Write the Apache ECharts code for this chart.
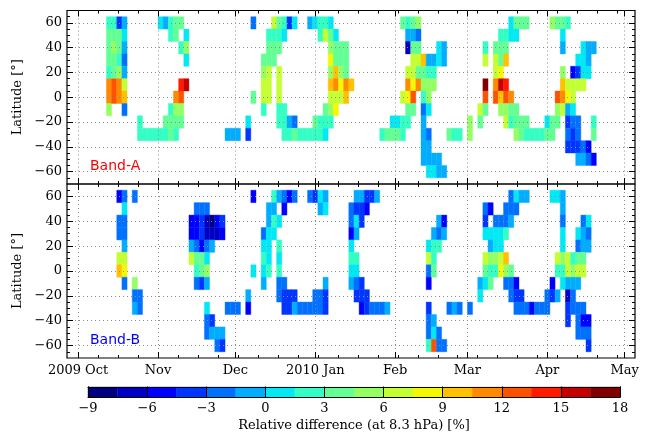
<!DOCTYPE html>
<html><head><meta charset="utf-8">
<script src="https://cdn.jsdelivr.net/npm/echarts@6/dist/echarts.min.js"></script>
<style>html,body{margin:0;padding:0;background:#fff}#c{width:648px;height:433px}</style>
</head><body><div id="c"></div>
<script>
// x values are days since 2009-10-01; each cell spans 2 days x 10 degrees latitude
const monthTicks = [0, 31, 61, 92, 123, 151, 182, 212];
const monthLabels = ['2009 Oct', 'Nov', 'Dec', '2010 Jan', 'Feb', 'Mar', 'Apr', 'May'];
const minorDayTicks = [7.75, 15.5, 23.25, 38.75, 46.5, 54.25, 62, 69.75, 77.5, 85.25, 93, 100.75, 108.5, 116.25, 124, 131.75, 139.5, 147.25, 155, 162.75, 170.5, 178.25, 186, 193.75, 201.5, 209.25];
const latTicks = [-60, -40, -20, 0, 20, 40, 60];
const latMinorTicks = [-65, -55, -50, -45, -35, -30, -25, -15, -10, -5, 5, 10, 15, 25, 30, 35, 45, 50, 55, 65];
const cbTicks = [-9, -6, -3, 0, 3, 6, 9, 12, 15, 18];
const cbBounds = [-9, -7.5, -6, -4.5, -3, -1.5, 0, 1.5, 3, 4.5, 6, 7.5, 9, 10.5, 12, 13.5, 15, 16.5];

// [day, latitude, relative difference %]
const bandA = [
[12,60,2.2],[12,50,3.8],[12,40,3.8],[12,30,3.8],[12,20,2.2],[12,10,11.2],[12,0,11.2],[12,-10,5.2],
[14,60,2.2],[14,50,3.8],[14,40,5.2],[14,30,3.8],[14,20,3.8],[14,10,12.8],[14,0,12.8],
[16,60,-3.8],[16,50,3.8],[16,40,3.8],[16,30,2.2],[16,20,5.2],[16,10,11.2],[16,0,11.2],
[18,60,-0.8],[18,50,0.8],[18,40,-0.8],[18,30,-2.2],[18,20,-0.8],[18,10,6.8],[18,0,9.8],[18,-10,-2.2],
[24,-20,2.2],[24,-30,2.2],[26,-30,2.2],[28,-30,2.2],[30,-30,2.2],
[32,60,0.8],[32,-30,2.2],
[34,60,-0.8],[34,-20,3.8],[34,-30,2.2],
[36,60,2.2],[36,50,2.2],[36,-10,2.2],[36,-20,3.8],[36,-30,3.8],
[38,60,3.8],[38,50,3.8],[38,0,11.2],[38,-10,5.2],[38,-20,3.8],[38,-30,2.2],
[40,60,3.8],[40,40,2.2],[40,10,14.2],[40,0,12.8],[40,-10,5.2],[40,-20,3.8],
[42,50,0.8],[42,40,5.2],[42,30,0.8],[42,10,15.8],
[58,-30,-0.8],[60,-30,-0.8],[62,-30,-0.8],
[66,-20,0.8],[66,-30,-3.8],
[68,60,-2.2],[68,0,3.8],
[72,30,3.8],[72,20,5.2],[72,10,6.8],[72,0,6.8],[72,-10,2.2],
[74,50,2.2],[74,40,3.8],[74,30,3.8],[74,20,6.8],[74,10,6.8],[74,0,6.8],
[76,60,6.8],[76,50,2.2],[76,40,3.8],[76,30,3.8],
[78,60,3.8],[78,50,2.2],[78,40,3.8],[78,20,6.8],[78,10,6.8],[78,0,6.8],[78,-10,2.2],[78,-20,2.2],
[80,60,2.2],[80,50,0.8],[80,-10,2.2],[80,-20,2.2],[80,-30,2.2],
[82,60,-3.8],[82,-20,-0.8],[82,-30,2.2],
[84,60,0.8],[84,-20,-2.2],[84,-30,3.8],
[86,-30,2.2],[88,-30,2.2],
[90,60,-0.8],[90,-30,2.2],
[92,60,0.8],[92,-20,3.8],[92,-30,2.2],
[94,60,2.2],[94,50,2.2],[94,-20,2.2],[94,-30,2.2],
[96,60,2.2],[96,50,6.8],[96,-10,3.8],[96,-20,2.2],[96,-30,0.8],
[98,60,0.8],[98,50,3.8],[98,40,5.2],[98,30,8.2],[98,20,5.2],[98,10,9.8],[98,0,6.8],[98,-10,5.2],[98,-20,2.2],
[100,50,0.8],[100,40,3.8],[100,30,3.8],[100,20,9.8],[100,10,11.2],[100,0,6.8],[100,-10,8.2],
[102,40,3.8],[102,30,3.8],[102,20,5.2],[102,10,8.2],[102,0,6.8],
[104,40,3.8],[104,30,3.8],[104,20,3.8],[104,10,11.2],[104,0,9.8],
[106,10,9.8],
[118,-30,2.2],[120,-30,3.8],
[122,-20,0.8],[122,-30,3.8],
[124,-20,0.8],[124,-30,3.8],
[126,60,3.8],[126,0,6.8],[126,-20,2.2],[126,-30,2.2],
[128,60,2.2],[128,50,-0.8],[128,40,-6.8],[128,20,6.8],[128,10,11.2],[128,0,8.2],[128,-10,3.8],[128,-20,2.2],
[130,60,3.8],[130,50,-0.8],[130,40,3.8],[130,30,6.8],[130,20,6.8],[130,10,8.2],[130,0,12.8],[130,-10,3.8],
[132,60,5.2],[132,50,-2.2],[132,40,3.8],[132,30,6.8],[132,20,3.8],[132,10,11.2],
[134,30,9.8],[134,20,3.8],[134,10,5.2],[134,0,2.2],[134,-10,-2.2],[134,-20,-0.8],[134,-30,-0.8],[134,-40,-0.8],[134,-50,-0.8],
[136,30,-0.8],[136,20,2.2],[136,10,5.2],[136,0,5.2],[136,-10,0.8],[136,-30,-2.2],[136,-40,-0.8],[136,-50,-0.8],[136,-60,0.8],
[138,30,-0.8],[138,20,2.2],[138,10,5.2],[138,-50,-0.8],[138,-60,0.8],
[140,40,0.8],[140,30,0.8],[140,-50,-0.8],[140,-60,-0.8],
[142,40,-0.8],[142,30,-0.8],[142,-60,-0.8],
[144,-30,3.8],[146,-30,2.2],[148,-30,2.2],
[152,-20,5.2],[152,-30,5.2],
[156,-10,6.8],[156,-20,3.8],
[158,40,2.2],[158,30,6.8],[158,10,17.2],[158,0,12.8],[158,-10,3.8],
[162,40,3.8],[162,30,6.8],[162,20,6.8],[162,10,11.2],[162,0,12.8],
[164,50,2.2],[164,40,3.8],[164,30,3.8],[164,20,8.2],[164,10,15.8],[164,0,9.8],[164,-10,5.2],
[166,50,2.2],[166,40,3.8],[166,30,9.8],[166,10,14.2],[166,0,12.8],[166,-10,5.2],[166,-20,6.8],
[168,60,0.8],[168,50,0.8],[168,0,11.2],[168,-10,3.8],[168,-20,2.2],
[170,60,3.8],[170,50,0.8],[170,-10,3.8],[170,-20,3.8],[170,-30,5.2],
[172,60,3.8],[172,-20,3.8],[172,-30,3.8],
[174,60,3.8],[174,-20,3.8],[174,-30,2.2],
[176,-30,2.2],[178,-30,2.2],[180,-30,2.2],
[182,-20,0.8],[182,-30,3.8],
[184,60,5.2],[184,-20,3.8],[184,-30,3.8],
[186,60,3.8],[186,0,12.8],[186,-10,5.2],[186,-20,3.8],
[188,60,3.8],[188,50,0.8],[188,40,-0.8],[188,20,5.2],[188,10,9.8],[188,0,11.2],[188,-10,6.8],
[190,60,2.2],[190,10,6.8],[190,0,8.2],[190,-10,-0.8],[190,-20,-3.8],[190,-30,-2.2],[190,-40,-3.8],
[192,20,-5.2],[192,10,6.8],[192,0,6.8],[192,-10,0.8],[192,-20,-2.2],[192,-30,-3.8],[192,-40,-3.8],
[194,30,0.8],[194,20,-3.8],[194,10,6.8],[194,-20,-2.2],[194,-30,-2.2],[194,-40,-3.8],[194,-50,-0.8],
[196,40,0.8],[196,30,0.8],[196,20,0.8],[196,10,6.8],[196,-40,-2.2],[196,-50,-0.8],
[198,40,-0.8],[198,30,-0.8],[198,20,0.8],[198,-40,-5.2],[198,-50,-2.2],
[200,40,-0.8],[200,-20,2.2],[200,-30,3.8],[200,-50,-5.2]
];

const bandB = [
[16,60,-5.2],[16,40,-2.2],[16,30,-2.2],[16,10,6.8],[16,0,9.8],
[18,60,-2.2],[18,50,0.8],[18,40,-2.2],[18,30,-2.2],[18,20,-0.8],[18,10,6.8],[18,0,8.2],[18,-10,-2.2],
[22,60,-2.2],[22,-10,5.2],[22,-20,-2.2],[22,-30,-0.8],
[24,-20,-2.2],[24,-30,-2.2],
[44,40,-5.2],[44,30,-5.2],[44,20,-0.8],[44,10,6.8],
[46,50,-2.2],[46,40,-5.2],[46,30,-5.2],[46,20,-2.2],[46,10,3.8],[46,0,2.2],[46,-10,-2.2],
[48,50,-2.2],[48,40,-3.8],[48,30,-3.8],[48,20,-5.2],[48,10,3.8],[48,0,3.8],[48,-10,-3.8],
[50,50,-2.2],[50,40,-6.8],[50,30,-6.8],[50,20,-2.2],[50,10,0.8],[50,0,5.2],[50,-10,-0.8],[50,-30,0.8],[50,-40,-2.2],[50,-50,-2.2],
[52,40,-8.2],[52,30,-6.8],[52,20,-0.8],[52,-40,-3.8],[52,-50,-0.8],
[54,40,-5.2],[54,30,-6.8],[54,-50,-0.8],[54,-60,-2.2],
[56,40,-3.8],[56,30,-5.2],[56,-50,-0.8],[56,-60,-3.8],
[58,-30,-2.2],[60,-30,-2.2],[62,-30,-2.2],
[66,-20,-0.8],[66,-30,-5.2],
[68,60,-5.2],[68,0,0.8],
[72,30,-2.2],[72,20,0.8],[72,10,2.2],[72,0,0.8],[72,-10,-0.8],
[74,50,-0.8],[74,40,-0.8],[74,30,0.8],[74,20,0.8],[74,10,0.8],[74,0,2.2],
[76,60,2.2],[76,50,-0.8],[76,40,2.2],[76,30,0.8],
[78,60,-0.8],[78,40,0.8],[78,20,2.2],[78,10,0.8],[78,0,2.2],[78,-10,-2.2],[78,-20,-2.2],
[80,60,-2.2],[80,50,-5.2],[80,-10,-2.2],[80,-20,-3.8],[80,-30,-3.8],
[82,60,-5.2],[82,-20,-3.8],[82,-30,-3.8],
[84,60,-2.2],[84,-20,-3.8],[84,-30,-0.8],
[86,-30,-2.2],[88,-30,-2.2],
[90,60,-2.2],[90,-30,-2.2],
[92,60,-3.8],[92,-20,-2.2],[92,-30,-2.2],
[94,60,0.8],[94,50,-0.8],[94,-20,-2.2],[94,-30,-2.2],
[96,60,-0.8],[96,50,0.8],[96,-10,-0.8],[96,-20,-3.8],[96,-30,-3.8],
[106,50,-2.2],[106,40,-2.2],[106,30,-5.2],[106,20,0.8],[106,10,2.2],[106,0,0.8],[106,-10,-0.8],
[108,60,-0.8],[108,50,-3.8],[108,40,0.8],[108,30,-0.8],[108,10,2.2],[108,0,0.8],[108,-10,-2.2],[108,-20,-3.8],
[110,60,-0.8],[110,50,-3.8],[110,40,-3.8],[110,-10,-3.8],[110,-20,-3.8],[110,-30,-5.2],
[112,60,-3.8],[112,50,-5.2],[112,-20,-3.8],[112,-30,-3.8],
[114,60,-3.8],[114,-30,-2.2],
[116,60,-0.8],[116,-30,-2.2],
[118,-30,-2.2],[120,-30,-0.8],
[136,20,0.8],[136,10,6.8],[136,0,-2.2],[136,-10,-5.2],[136,-30,-3.8],[136,-40,-2.2],[136,-50,-2.2],[136,-60,2.2],
[138,30,-0.8],[138,20,2.2],[138,10,2.2],[138,0,3.8],[138,-40,-0.8],[138,-50,0.8],[138,-60,12.8],
[140,40,-0.8],[140,30,-2.2],[140,20,2.2],[140,-50,-2.2],[140,-60,-2.2],
[142,40,-5.2],[142,30,-0.8],[142,-60,-2.2],
[144,-30,-2.2],[146,-30,-0.8],[148,-30,-2.2],[152,-30,-2.2],
[156,-10,-0.8],[156,-20,0.8],
[158,50,-2.2],[158,40,-3.8],[158,30,0.8],[158,10,6.8],[158,0,3.8],[158,-10,0.8],
[160,50,-5.2],[160,30,0.8],[160,20,-0.8],[160,10,5.2],[160,0,2.2],[160,-10,3.8],
[162,40,-2.2],[162,30,0.8],[162,20,0.8],[162,10,5.2],[162,0,2.2],
[164,40,-2.2],[164,30,0.8],[164,20,0.8],[164,10,6.8],[164,0,8.2],
[166,50,-2.2],[166,40,-2.2],[166,30,2.2],[166,10,9.8],[166,0,5.2],[166,-10,-2.2],
[168,60,-2.2],[168,50,-2.2],[168,40,-0.8],[168,0,3.8],[168,-10,-2.2],[168,-20,-2.2],
[170,60,0.8],[170,50,-2.2],[170,-10,-5.2],[170,-20,-3.8],[170,-30,-2.2],
[172,60,-0.8],[172,-20,-3.8],[172,-30,-2.2],
[174,60,-0.8],[174,-30,-2.2],
[176,-30,-5.2],[178,-30,-2.2],[180,-30,-2.2],
[182,-20,-2.2],[182,-30,-2.2],
[184,60,0.8],[184,-10,-5.2],[184,-20,-3.8],
[186,60,0.8],[186,10,6.8],[186,0,2.2],[186,-20,-0.8],
[188,60,-0.8],[188,50,-0.8],[188,40,-2.2],[188,30,0.8],[188,20,0.8],[188,10,5.2],[188,0,2.2],[188,-10,0.8],
[190,10,6.8],[190,0,6.8],[190,-10,-0.8],[190,-20,-6.8],[190,-30,-3.8],[190,-40,-3.8],
[192,10,2.2],[192,0,5.2],[192,-10,-0.8],[192,-20,-2.2],[192,-30,-2.2],
[194,30,0.8],[194,20,-2.2],[194,10,3.8],[194,0,6.8],[194,-10,-0.8],[194,-30,-2.2],[194,-40,-2.2],[194,-50,-2.2],
[196,40,-2.2],[196,30,-0.8],[196,20,-0.8],[196,10,3.8],[196,0,6.8],[196,-30,-2.2],[196,-40,-5.2],[196,-50,-2.2],
[198,40,0.8],[198,30,-2.2],[198,20,-0.8],[198,-40,-5.2],[198,-50,-2.2],[198,-60,-3.8]
];

// matplotlib "jet" colormap, 18 discrete levels (-9 .. 18 by 1.5)
function jet(t) {
  function interp(pts) {
    for (let i = 0; i < pts.length - 1; i++) {
      const a = pts[i], b = pts[i + 1];
      if (t >= a[0] && t <= b[0]) return a[1] + (b[1] - a[1]) * (t - a[0]) / (b[0] - a[0]);
    }
    return pts[pts.length - 1][1];
  }
  const r = interp([[0,0],[0.35,0],[0.66,1],[0.89,1],[1,0.5]]);
  const g = interp([[0,0],[0.125,0],[0.375,1],[0.64,1],[0.91,0],[1,0]]);
  const b = interp([[0,0.5],[0.11,1],[0.34,1],[0.65,0],[1,0]]);
  return 'rgb(' + Math.round(r*255) + ',' + Math.round(g*255) + ',' + Math.round(b*255) + ')';
}
const levelColors = cbBounds.map((_, i) => jet(i / (cbBounds.length - 1)));
function colorFor(v) {
  let i = Math.floor((v - cbBounds[0]) / 1.5);
  i = Math.max(0, Math.min(levelColors.length - 1, i));
  return levelColors[i];
}

const xMin = -4.3, xMax = 216;
const serif = 'DejaVu Serif';
const minus = s => String(s).replace('-', '\u2212');
const tickStyle = {color: '#000', width: 1};
const gridDot = {color: '#8c8c8c', width: 1, type: [1, 3]};
const noLine = {show: false, onZero: false};

function xAxesFor(gi, showLabels) {
  const c = {gridIndex: gi, type: 'value', min: xMin, max: xMax, z: 3, axisLine: noLine, splitLine: {show: false}, axisLabel: {show: false}};
  return [
    Object.assign({}, c, {position: 'bottom',
      axisTick: {show: true, inside: true, length: 6, customValues: monthTicks, lineStyle: tickStyle},
      axisLabel: {show: showLabels, customValues: monthTicks, margin: 6, color: '#000', fontFamily: serif, fontSize: 13,
        formatter: v => monthLabels[monthTicks.indexOf(Math.round(v))] || ''},
      splitLine: {show: true, lineStyle: gridDot}}),
    Object.assign({}, c, {position: 'bottom', axisTick: {show: true, inside: true, length: 3, customValues: minorDayTicks, lineStyle: tickStyle}}),
    Object.assign({}, c, {position: 'top', axisTick: {show: true, inside: true, length: 6, customValues: monthTicks, lineStyle: tickStyle}}),
    Object.assign({}, c, {position: 'top', axisTick: {show: true, inside: true, length: 3, customValues: minorDayTicks, lineStyle: tickStyle}})
  ];
}
function yAxesFor(gi) {
  const c = {gridIndex: gi, type: 'value', min: -70, max: 70, z: 3, axisLine: noLine, splitLine: {show: false}, axisLabel: {show: false}};
  return [
    Object.assign({}, c, {position: 'left',
      name: 'Latitude [\u00b0]', nameLocation: 'middle', nameGap: 33, nameRotate: 90,
      nameTextStyle: {fontFamily: serif, fontSize: 13, color: '#000'},
      axisTick: {show: true, inside: true, length: 6, customValues: latTicks, lineStyle: tickStyle},
      axisLabel: {show: true, customValues: latTicks, margin: 5, color: '#000', fontFamily: serif, fontSize: 13, formatter: minus},
      splitLine: {show: true, lineStyle: gridDot}}),
    Object.assign({}, c, {position: 'left', axisTick: {show: true, inside: true, length: 3, customValues: latMinorTicks, lineStyle: tickStyle}}),
    Object.assign({}, c, {position: 'right', axisTick: {show: true, inside: true, length: 6, customValues: latTicks, lineStyle: tickStyle}}),
    Object.assign({}, c, {position: 'right', axisTick: {show: true, inside: true, length: 3, customValues: latMinorTicks, lineStyle: tickStyle}})
  ];
}

function cellRender(params, api) {
  const d = api.value(0), lat = api.value(1), v = api.value(2);
  const p0 = api.coord([d - 1, lat + 5]);
  const p1 = api.coord([d + 1, lat - 5]);
  const col = colorFor(v);
  return {type: 'rect', shape: {x: p0[0], y: p0[1], width: p1[0] - p0[0], height: p1[1] - p0[1]},
    style: {fill: col, stroke: col, lineWidth: 0.4}};
}
function cbRender(params, api) {
  const lo = api.value(0);
  const p0 = api.coord([lo, 1]);
  const p1 = api.coord([lo + 1.5, 0]);
  return {type: 'rect', shape: {x: p0[0], y: p0[1], width: p1[0] - p0[0], height: p1[1] - p0[1]},
    style: {fill: levelColors[params.dataIndex], stroke: levelColors[params.dataIndex], lineWidth: 0.4}};
}

const chart = echarts.init(document.getElementById('c'), null, {renderer: 'canvas'});
const cbX = {gridIndex: 2, type: 'value', min: -9, max: 18, interval: 3, z: 5};
const cbY = {gridIndex: 2, type: 'value', min: 0, max: 1, z: 5, axisTick: {show: false}, axisLabel: {show: false}, splitLine: {show: false}, axisLine: {show: true, onZero: false, lineStyle: tickStyle}};
chart.setOption({
  animation: false,
  backgroundColor: '#fff',
  grid: [
    {left: 67, top: 10.5, width: 568, height: 173.5, show: true, borderColor: '#000', borderWidth: 1.2, backgroundColor: 'transparent'},
    {left: 67, top: 184, width: 568, height: 174, show: true, borderColor: '#000', borderWidth: 1.2, backgroundColor: 'transparent'},
    {left: 88, top: 387, width: 532, height: 10.5}
  ],
  xAxis: [].concat(xAxesFor(0, false), xAxesFor(1, true), [
    Object.assign({}, cbX, {position: 'bottom',
      axisLine: {show: true, onZero: false, lineStyle: tickStyle},
      axisTick: {show: true, inside: true, length: 10.5, lineStyle: tickStyle},
      axisLabel: {show: true, margin: 5, color: '#000', fontFamily: serif, fontSize: 13, formatter: minus},
      splitLine: {show: false},
      name: 'Relative difference (at 8.3 hPa) [%]', nameLocation: 'middle', nameGap: 22,
      nameTextStyle: {fontFamily: serif, fontSize: 13, color: '#000'}}),
    Object.assign({}, cbX, {position: 'top', axisLine: {show: true, onZero: false, lineStyle: tickStyle}, axisTick: {show: false}, axisLabel: {show: false}, splitLine: {show: false}})
  ]),
  yAxis: [].concat(yAxesFor(0), yAxesFor(1), [
    Object.assign({}, cbY, {position: 'left'}),
    Object.assign({}, cbY, {position: 'right'})
  ]),
  graphic: [
    {type: 'text', left: 90, top: 159, z: 10, style: {text: 'Band-A', fill: '#ff0000', font: '14px "DejaVu Sans"'}},
    {type: 'text', left: 90, top: 333, z: 10, style: {text: 'Band-B', fill: '#0000ff', font: '14px "DejaVu Sans"'}}
  ],
  series: [
    {type: 'custom', name: 'Band-A', xAxisIndex: 0, yAxisIndex: 0, data: bandA, renderItem: cellRender, encode: {x: 0, y: 1}, silent: true, clip: true},
    {type: 'custom', name: 'Band-B', xAxisIndex: 4, yAxisIndex: 4, data: bandB, renderItem: cellRender, encode: {x: 0, y: 1}, silent: true, clip: true},
    {type: 'custom', name: 'colorbar', xAxisIndex: 8, yAxisIndex: 8, data: cbBounds.map(b => [b]), renderItem: cbRender, encode: {x: 0}, silent: true}
  ]
});
</script>
</body></html>
